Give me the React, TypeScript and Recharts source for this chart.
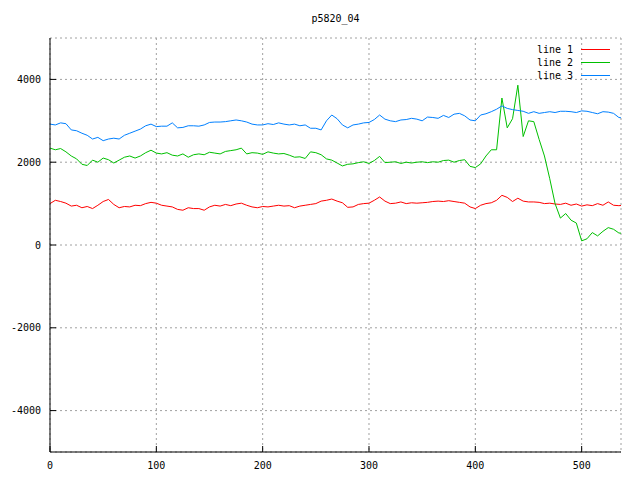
import { LineChart, Line, XAxis, YAxis, CartesianGrid } from 'recharts';

// values, one point every 5 samples (0..540)
const line1 = [
  1000, 1080, 1050, 1010, 940, 960, 900, 930, 880, 960,
  1050, 1100, 980, 900, 930, 920, 960, 950, 1000, 1030,
  1010, 960, 940, 920, 860, 840, 900, 880, 880, 840,
  920, 960, 940, 980, 950, 990, 1010, 960, 920, 900,
  930, 920, 940, 960, 940, 950, 900, 940, 960, 980,
  1000, 1060, 1080, 1110, 1060, 1020, 910, 920, 980, 1000,
  1010, 1080, 1160, 1060, 1000, 1010, 1040, 1000, 1020, 1010,
  1020, 1030, 1050, 1060, 1050, 1070, 1050, 1030, 1010, 920,
  880, 960, 1000, 1020, 1080, 1200, 1150, 1050, 1130, 1060,
  1040, 1040, 1030, 1000, 1010, 990, 980, 1010, 960, 990,
  940, 970, 950, 1000, 960, 1040, 960, 950, 960,
];

const line2 = [
  2340, 2300, 2330, 2250, 2150, 2080, 1950, 1920, 2050, 2000,
  2100, 2060, 1980, 2050, 2120, 2150, 2100, 2150, 2230, 2290,
  2220, 2200, 2230, 2170, 2150, 2200, 2120, 2180, 2200, 2180,
  2240, 2220, 2200, 2260, 2280, 2300, 2340, 2200, 2230, 2220,
  2190, 2250, 2220, 2200, 2210, 2170, 2120, 2130, 2090, 2250,
  2230, 2180, 2080, 2050, 1980, 1910, 1950, 1960, 1990, 2010,
  1970, 2040, 2140, 1990, 2000, 2010, 1970, 2000, 1980, 2000,
  2010, 1990, 2010, 2000, 2040, 2050, 2000, 2040, 2060, 1900,
  1870, 1960, 2150, 2300, 2300, 3550, 2830, 3050, 3860, 2620,
  3000, 2980, 2550, 2150, 1600, 1000, 650, 760, 600, 530,
  100, 150, 300, 220, 330, 420, 380, 290, 280,
];

const line3 = [
  2920, 2900, 2950, 2930, 2780, 2760, 2700, 2650, 2560, 2600,
  2520, 2560, 2580, 2560, 2650, 2700, 2750, 2800, 2880, 2920,
  2860, 2870, 2870, 2950, 2830, 2840, 2880, 2880, 2870, 2900,
  2960, 2970, 2970, 2980, 3000, 3020, 3000, 2970, 2920, 2900,
  2900, 2930, 2910, 2950, 2920, 2900, 2920, 2880, 2900, 2820,
  2820, 2780, 3000, 3140, 3050, 2900, 2830, 2900, 2920, 2950,
  2960, 3030, 3140, 3040, 3000, 2980, 3020, 3030, 3060, 3040,
  3000, 3090, 3080, 3060, 3130, 3080, 3160, 3180, 3120, 3020,
  3000, 3140, 3170, 3220, 3280, 3360, 3300, 3270, 3250, 3230,
  3180, 3220, 3180, 3200, 3220, 3200, 3230, 3230, 3220, 3200,
  3240, 3230, 3200, 3170, 3220, 3210, 3180, 3080, 3060,
];

const xTicks = [0, 100, 200, 300, 400, 500];
const yTicks = [-4000, -2000, 0, 2000, 4000];

const data = line1.map((v, i) => ({ x: i * 5, line1: v, line2: line2[i], line3: line3[i] }));

const font = '"DejaVu Sans Mono", monospace';
const tickStyle = { fontSize: 10, fontFamily: font, fill: '#000' };

const series = [
  { key: 'line1', name: 'line 1', color: '#ff0000' },
  { key: 'line2', name: 'line 2', color: '#00c000' },
  { key: 'line3', name: 'line 3', color: '#0080ff' },
];

export default function App() {
  return (
    <div style={{ position: 'fixed', left: 0, top: 0, width: 640, height: 480, background: '#fff' }}>
      <div
        style={{
          position: 'absolute', left: 50, width: 571, top: 13, textAlign: 'center',
          fontFamily: font, fontSize: 10, lineHeight: '12px',
        }}
      >
        p5820_04
      </div>
      <LineChart width={640} height={480} data={data} margin={{ top: 38, right: 19, bottom: 0, left: 0 }}>
        <CartesianGrid stroke="#a0a0a0" strokeDasharray="2 3" xAxisId="bottom" yAxisId="left" />
        <XAxis
          xAxisId="bottom" dataKey="x" type="number" domain={[0, 537]} ticks={xTicks}
          height={28} tickSize={-6} tickMargin={16} tick={tickStyle}
          axisLine={{ stroke: '#000' }} tickLine={{ stroke: '#000' }} allowDataOverflow
        />
        <XAxis
          xAxisId="top" orientation="top" dataKey="x" type="number" domain={[0, 537]} ticks={xTicks}
          height={0} tickSize={-6} tick={false}
          axisLine={{ stroke: '#000' }} tickLine={{ stroke: '#000' }} allowDataOverflow
        />
        <YAxis
          yAxisId="left" type="number" domain={[-5000, 5000]} ticks={yTicks}
          width={50} tickSize={-6} tickMargin={15} tick={tickStyle}
          axisLine={{ stroke: '#000' }} tickLine={{ stroke: '#000' }} allowDataOverflow
        />
        <YAxis
          yAxisId="right" orientation="right" type="number" domain={[-5000, 5000]} ticks={yTicks}
          width={0} tickSize={-6} tick={false}
          axisLine={{ stroke: '#000' }} tickLine={{ stroke: '#000' }} allowDataOverflow
        />
        {series.map((s) => (
          <Line
            key={s.key} xAxisId="bottom" yAxisId="left" type="linear" dataKey={s.key}
            stroke={s.color} strokeWidth={1} dot={false} isAnimationActive={false}
          />
        ))}
      </LineChart>
      {/* legend, gnuplot style: label right-aligned, sample line after it */}
      <svg width={160} height={45} style={{ position: 'absolute', left: 460, top: 40 }}>
        {series.map((s, i) => (
          <g key={s.key}>
            <text
              x={113} y={9 + i * 13} dy="0.35em" textAnchor="end"
              style={{ fontFamily: font, fontSize: 10, fill: '#000' }}
            >
              {s.name}
            </text>
            <line x1={121} x2={150} y1={9.5 + i * 13} y2={9.5 + i * 13} stroke={s.color} strokeWidth={1} />
          </g>
        ))}
      </svg>
    </div>
  );
}
